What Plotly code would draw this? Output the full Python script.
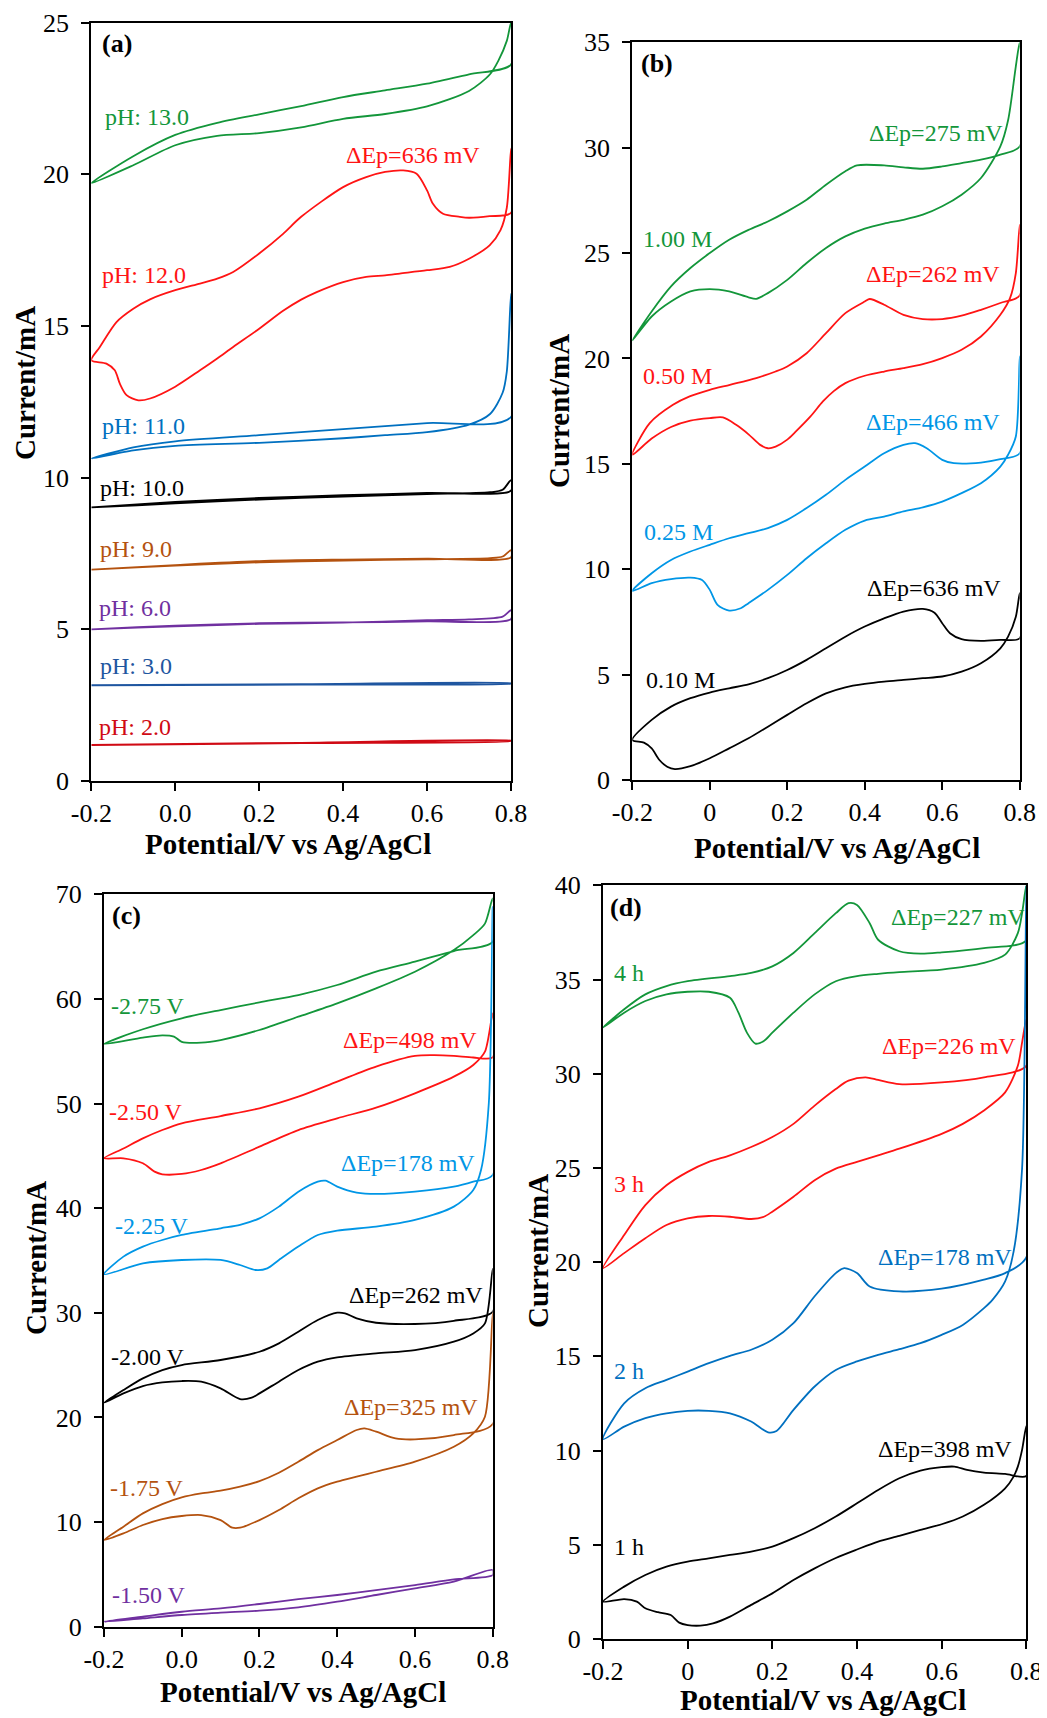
import plotly.graph_objects as go

# The page body has an 8 px default margin, so the figure is drawn 8 px smaller
# and every reference pixel position is shifted by OFF.
OFF = 8
W, H = 1047 - OFF, 1718 - OFF

# ---------------- colours ----------------
GREEN = "#13963A"
RED = "#FF1414"
DRED = "#D00A14"
BLUE = "#0070C0"
LBLUE = "#0096E6"
BROWN = "#B4520F"
PURPLE = "#7030A0"
NAVY = "#1F56A0"
BLACK = "#000000"

# ================= Panel (a): pH =================
a13_up_x = [-0.2, -0.1, 0, 0.1, 0.2, 0.3, 0.4, 0.5, 0.6, 0.7, 0.8]
a13_up_y = [19.71, 20.6, 21.3, 21.7, 21.98, 22.25, 22.55, 22.77, 22.99, 23.3, 23.62]
a13_dn_x = [-0.2, -0.1, 0, 0.1, 0.2, 0.3, 0.4, 0.5, 0.6, 0.7, 0.75, 0.77, 0.79, 0.8]
a13_dn_y = [19.71, 20.3, 20.96, 21.27, 21.36, 21.55, 21.83, 21.99, 22.24, 22.75, 23.3, 23.75, 24.4, 25.0]

a12_up_x = [-0.2, -0.18, -0.14, -0.1, -0.06, 0, 0.059, 0.1, 0.138, 0.2, 0.257, 0.3, 0.4, 0.455, 0.5,
            0.543, 0.575, 0.6, 0.614, 0.638, 0.678, 0.7, 0.749, 0.8]
a12_up_y = [13.87, 14.3, 15.13, 15.57, 15.88, 16.18, 16.4, 16.56, 16.78, 17.39, 18.04, 18.6, 19.58, 19.91, 20.08,
            20.13, 20.02, 19.47, 19.03, 18.7, 18.6, 18.57, 18.62, 18.73]
a12_dn_x = [-0.2, -0.164, -0.144, -0.132, -0.116, -0.088, -0.06, 0, 0.059, 0.1, 0.138, 0.2, 0.257, 0.3, 0.337,
            0.4, 0.455, 0.5, 0.535, 0.6, 0.654, 0.7, 0.749, 0.775, 0.79, 0.8]
a12_dn_y = [13.87, 13.76, 13.54, 13.1, 12.72, 12.55, 12.61, 13.0, 13.54, 13.93, 14.31, 14.91, 15.5, 15.87, 16.12,
            16.45, 16.62, 16.67, 16.73, 16.84, 16.95, 17.22, 17.66, 18.16, 18.9, 20.85]

a11_up_x = [-0.2, -0.1, 0, 0.2, 0.4, 0.6, 0.8]
a11_up_y = [10.63, 11.0, 11.2, 11.4, 11.6, 11.8, 12.0]
a11_dn_x = [-0.2, -0.1, 0, 0.2, 0.4, 0.5, 0.6, 0.7, 0.75, 0.78, 0.79, 0.8]
a11_dn_y = [10.63, 10.9, 11.05, 11.15, 11.3, 11.4, 11.5, 11.75, 12.1, 12.8, 13.5, 16.07]

a10_up_x = [-0.2, 0, 0.2, 0.4, 0.6, 0.8]
a10_up_y = [9.02, 9.2, 9.33, 9.42, 9.5, 9.57]
a10_dn_x = [-0.2, 0, 0.2, 0.4, 0.6, 0.75, 0.78, 0.8]
a10_dn_y = [9.02, 9.15, 9.28, 9.38, 9.46, 9.52, 9.6, 9.92]

a9_up_x = [-0.2, 0, 0.2, 0.4, 0.6, 0.8]
a9_up_y = [6.97, 7.12, 7.25, 7.3, 7.33, 7.37]
a9_dn_x = [-0.2, 0, 0.2, 0.4, 0.6, 0.75, 0.78, 0.8]
a9_dn_y = [6.97, 7.1, 7.21, 7.27, 7.31, 7.35, 7.4, 7.61]

a6_up_x = [-0.2, 0, 0.2, 0.4, 0.6, 0.8]
a6_up_y = [5.0, 5.12, 5.2, 5.23, 5.26, 5.34]
a6_dn_x = [-0.2, 0, 0.2, 0.4, 0.6, 0.7, 0.78, 0.8]
a6_dn_y = [5.0, 5.1, 5.18, 5.22, 5.3, 5.33, 5.42, 5.63]

a3_up_x = [-0.2, 0.3, 0.8]
a3_up_y = [3.16, 3.19, 3.22]
a3_dn_x = [-0.2, 0.3, 0.8]
a3_dn_y = [3.15, 3.18, 3.21]

a2_up_x = [-0.2, 0.3, 0.8]
a2_up_y = [1.19, 1.26, 1.33]
a2_dn_x = [-0.2, 0.3, 0.8]
a2_dn_y = [1.18, 1.25, 1.32]

# ================= Panel (b): concentration =================
b100_up_x = [-0.2, -0.15, -0.1, -0.05, 0, 0.05, 0.1, 0.15, 0.2, 0.25, 0.3, 0.35, 0.38, 0.45, 0.5, 0.55,
             0.6, 0.65, 0.7, 0.75, 0.8]
b100_up_y = [20.85, 22.23, 23.42, 24.29, 25.0, 25.63, 26.1, 26.5, 26.98, 27.53, 28.24, 28.88, 29.16, 29.16,
             29.07, 29.0, 29.11, 29.27, 29.43, 29.67, 30.06]
b100_dn_x = [-0.2, -0.15, -0.1, -0.05, 0, 0.05, 0.1, 0.12, 0.15, 0.2, 0.25, 0.3, 0.35, 0.4, 0.45, 0.5,
             0.55, 0.6, 0.65, 0.7, 0.75, 0.77, 0.79, 0.8]
b100_dn_y = [20.85, 21.99, 22.7, 23.18, 23.29, 23.18, 22.9, 22.83, 23.1, 23.73, 24.53, 25.24, 25.79, 26.16,
             26.4, 26.58, 26.82, 27.22, 27.77, 28.56, 30.06, 31.3, 33.86, 35.0]

b050_up_x = [-0.2, -0.155, -0.095, -0.052, 0, 0.052, 0.12, 0.17, 0.2, 0.25, 0.3, 0.35, 0.4, 0.413, 0.45,
             0.5, 0.55, 0.6, 0.65, 0.7, 0.75, 0.8]
b050_up_y = [15.43, 16.93, 17.8, 18.2, 18.51, 18.75, 19.07, 19.38, 19.62, 20.25, 21.2, 22.15, 22.7, 22.82,
             22.55, 22.07, 21.87, 21.87, 22.03, 22.31, 22.63, 22.99]
b050_dn_x = [-0.2, -0.15, -0.1, -0.05, 0, 0.034, 0.068, 0.1, 0.13, 0.15, 0.17, 0.2, 0.223, 0.26, 0.292,
             0.32, 0.35, 0.4, 0.45, 0.5, 0.55, 0.6, 0.65, 0.7, 0.75, 0.775, 0.79, 0.8]
b050_dn_y = [15.43, 16.2, 16.75, 17.05, 17.17, 17.2, 16.85, 16.4, 15.9, 15.74, 15.82, 16.15, 16.55, 17.25,
             17.96, 18.45, 18.83, 19.18, 19.38, 19.54, 19.73, 20.02, 20.41, 21.04, 22.07, 22.86, 24.05, 26.34]

b025_up_x = [-0.2, -0.15, -0.1, -0.05, 0, 0.05, 0.1, 0.15, 0.2, 0.25, 0.3, 0.35, 0.4, 0.45, 0.5, 0.53,
             0.56, 0.6, 0.63, 0.7, 0.75, 0.8]
b025_up_y = [8.97, 9.81, 10.44, 10.84, 11.16, 11.47, 11.71, 11.95, 12.34, 12.9, 13.53, 14.24, 14.87, 15.5,
             15.9, 15.98, 15.74, 15.19, 15.03, 15.06, 15.22, 15.5]
b025_dn_x = [-0.2, -0.15, -0.1, -0.05, -0.02, 0, 0.02, 0.05, 0.08, 0.1, 0.15, 0.2, 0.25, 0.3, 0.35, 0.4,
             0.45, 0.5, 0.55, 0.6, 0.65, 0.7, 0.75, 0.77, 0.79, 0.8]
b025_dn_y = [8.97, 9.34, 9.53, 9.6, 9.49, 9.02, 8.31, 8.04, 8.15, 8.39, 9.02, 9.73, 10.52, 11.23, 11.87,
             12.31, 12.5, 12.74, 12.94, 13.21, 13.61, 14.08, 14.87, 15.43, 16.3, 20.1]

b010_up_x = [-0.2, -0.15, -0.1, -0.05, 0, 0.05, 0.1, 0.15, 0.2, 0.25, 0.3, 0.35, 0.4, 0.45, 0.5, 0.55,
             0.58, 0.6, 0.62, 0.65, 0.7, 0.75, 0.8]
b010_up_y = [1.9, 2.85, 3.48, 3.88, 4.15, 4.35, 4.54, 4.83, 5.22, 5.7, 6.25, 6.8, 7.28, 7.67, 7.99, 8.12,
             7.94, 7.44, 6.96, 6.68, 6.6, 6.65, 6.72]
b010_dn_x = [-0.2, -0.17, -0.15, -0.13, -0.11, -0.09, -0.05, 0, 0.05, 0.1, 0.15, 0.2, 0.25, 0.3, 0.35, 0.4,
             0.45, 0.5, 0.55, 0.6, 0.65, 0.7, 0.75, 0.77, 0.79, 0.8]
b010_dn_y = [1.9, 1.77, 1.5, 0.95, 0.63, 0.52, 0.66, 1.03, 1.5, 1.98, 2.53, 3.09, 3.64, 4.11, 4.4, 4.56,
             4.67, 4.75, 4.83, 4.91, 5.14, 5.54, 6.25, 6.8, 7.75, 8.86]

# ================= Panel (c): deposition potential =================
c275_up_x = [-0.2, -0.1, 0, 0.1, 0.2, 0.3, 0.4, 0.5, 0.6, 0.7, 0.8]
c275_up_y = [55.69, 57.1, 58.15, 58.94, 59.67, 60.37, 61.33, 62.6, 63.56, 64.58, 65.47]
c275_dn_x = [-0.2, -0.1, -0.05, -0.02, 0, 0.05, 0.1, 0.2, 0.3, 0.4, 0.5, 0.6, 0.7, 0.75, 0.78, 0.8]
c275_dn_y = [55.69, 56.3, 56.52, 56.4, 55.9, 55.82, 56.07, 57.03, 58.3, 59.58, 61.01, 62.6, 64.67, 66.1,
             67.2, 69.6]

c250_up_x = [-0.2, -0.15, -0.1, -0.05, 0, 0.1, 0.2, 0.3, 0.4, 0.5, 0.6, 0.65, 0.7, 0.75, 0.8]
c250_up_y = [44.77, 45.71, 46.67, 47.47, 48.11, 48.81, 49.55, 50.66, 52.1, 53.53, 54.55, 54.62, 54.55,
             54.4, 54.42]
c250_dn_x = [-0.2, -0.15, -0.1, -0.07, -0.05, 0, 0.05, 0.1, 0.2, 0.3, 0.4, 0.5, 0.6, 0.7, 0.75, 0.78, 0.8]
c250_dn_y = [44.77, 44.77, 44.29, 43.49, 43.24, 43.27, 43.65, 44.29, 45.88, 47.47, 48.59, 49.61, 50.98,
             52.57, 53.69, 54.96, 58.62]

c225_up_x = [-0.2, -0.15, -0.1, -0.05, 0, 0.1, 0.15, 0.2, 0.25, 0.3, 0.35, 0.37, 0.4, 0.45, 0.5, 0.6,
             0.7, 0.75, 0.8]
c225_up_y = [33.68, 35.37, 36.33, 36.96, 37.44, 38.08, 38.4, 39.03, 40.15, 41.58, 42.54, 42.63, 42.06,
             41.49, 41.36, 41.58, 42.06, 42.54, 43.18]
c225_dn_x = [-0.2, -0.1, 0, 0.1, 0.15, 0.19, 0.22, 0.25, 0.3, 0.35, 0.4, 0.5, 0.6, 0.7, 0.75, 0.77, 0.79,
             0.8]
c225_dn_y = [33.68, 34.73, 35.05, 35.05, 34.57, 34.09, 34.25, 35.05, 36.33, 37.44, 37.86, 38.24, 38.88,
             40.15, 41.74, 43.65, 50.03, 68.8]

c200_up_x = [-0.2, -0.15, -0.1, -0.05, 0, 0.1, 0.2, 0.25, 0.3, 0.35, 0.4, 0.42, 0.45, 0.5, 0.6, 0.7, 0.8]
c200_up_y = [21.41, 22.62, 23.73, 24.53, 25.01, 25.49, 26.28, 27.08, 28.19, 29.31, 30.01, 29.95, 29.47,
             29.05, 28.93, 29.24, 30.1]
c200_dn_x = [-0.2, -0.15, -0.1, -0.05, 0, 0.05, 0.1, 0.15, 0.18, 0.2, 0.25, 0.3, 0.35, 0.4, 0.5, 0.6,
             0.7, 0.75, 0.78, 0.8]
c200_dn_y = [21.41, 22.3, 23.0, 23.35, 23.48, 23.42, 22.78, 21.76, 21.89, 22.3, 23.42, 24.53, 25.33,
             25.74, 26.12, 26.44, 27.24, 28.03, 28.99, 34.2]

c175_up_x = [-0.2, -0.15, -0.1, -0.05, 0, 0.05, 0.1, 0.15, 0.2, 0.25, 0.3, 0.35, 0.4, 0.45, 0.47, 0.5,
             0.55, 0.6, 0.7, 0.8]
c175_up_y = [8.28, 9.56, 10.83, 11.72, 12.36, 12.74, 13.0, 13.38, 13.92, 14.72, 15.77, 16.88, 17.84, 18.8,
             18.95, 18.64, 18.0, 17.9, 18.32, 19.37]
c175_dn_x = [-0.2, -0.15, -0.1, -0.05, 0, 0.05, 0.1, 0.13, 0.15, 0.2, 0.25, 0.3, 0.35, 0.4, 0.45, 0.5,
             0.6, 0.7, 0.75, 0.78, 0.8]
c175_dn_y = [8.28, 8.92, 9.72, 10.29, 10.58, 10.67, 10.19, 9.46, 9.46, 10.19, 11.15, 12.27, 13.22, 13.86,
             14.34, 14.81, 15.77, 17.2, 18.48, 20.07, 29.95]

c150_up_x = [-0.2, -0.1, 0, 0.1, 0.2, 0.3, 0.4, 0.5, 0.6, 0.7, 0.8]
c150_up_y = [0.48, 0.96, 1.43, 1.75, 2.17, 2.64, 3.03, 3.5, 3.98, 4.52, 4.94]
c150_dn_x = [-0.2, -0.1, 0, 0.1, 0.2, 0.3, 0.4, 0.5, 0.6, 0.7, 0.8]
c150_dn_y = [0.48, 0.8, 1.12, 1.34, 1.53, 1.85, 2.39, 3.03, 3.66, 4.3, 5.42]

# ================= Panel (d): deposition time =================
d4_up_x = [-0.2, -0.15, -0.1, -0.05, 0, 0.1, 0.15, 0.2, 0.25, 0.3, 0.35, 0.38, 0.4, 0.43, 0.45, 0.5, 0.55,
           0.6, 0.7, 0.8]
d4_up_y = [32.45, 33.42, 34.21, 34.65, 34.91, 35.18, 35.35, 35.7, 36.41, 37.46, 38.52, 39.05, 38.96, 37.99,
           37.11, 36.5, 36.37, 36.44, 36.67, 37.08]
d4_dn_x = [-0.2, -0.15, -0.1, -0.05, 0, 0.05, 0.1, 0.12, 0.14, 0.16, 0.18, 0.2, 0.25, 0.3, 0.35, 0.4, 0.45,
           0.5, 0.6, 0.7, 0.75, 0.78, 0.79, 0.8]
d4_dn_y = [32.45, 33.24, 33.86, 34.21, 34.35, 34.35, 34.03, 33.24, 32.18, 31.6, 31.74, 32.18, 33.24, 34.21,
           34.91, 35.18, 35.3, 35.39, 35.53, 35.88, 36.32, 37.46, 38.52, 40.0]

d3_up_x = [-0.2, -0.15, -0.1, -0.05, 0, 0.05, 0.1, 0.15, 0.2, 0.25, 0.3, 0.35, 0.38, 0.42, 0.45, 0.5, 0.6,
           0.7, 0.8]
d3_up_y = [19.68, 21.44, 23.03, 24.08, 24.79, 25.32, 25.67, 26.11, 26.64, 27.34, 28.31, 29.19, 29.63, 29.81,
           29.67, 29.45, 29.54, 29.81, 30.42]
d3_dn_x = [-0.2, -0.15, -0.1, -0.05, 0, 0.05, 0.1, 0.15, 0.18, 0.2, 0.25, 0.3, 0.35, 0.4, 0.45, 0.5, 0.6,
           0.65, 0.7, 0.75, 0.78, 0.79, 0.8]
d3_dn_y = [19.68, 20.48, 21.27, 21.97, 22.32, 22.45, 22.41, 22.29, 22.41, 22.68, 23.47, 24.35, 24.96, 25.32,
           25.67, 26.02, 26.81, 27.34, 28.05, 29.01, 30.42, 31.65, 32.89]

d2_up_x = [-0.2, -0.15, -0.1, -0.05, 0, 0.05, 0.1, 0.15, 0.2, 0.25, 0.3, 0.35, 0.37, 0.4, 0.43, 0.5, 0.6,
           0.7, 0.75, 0.8]
d2_up_y = [10.6, 12.51, 13.31, 13.75, 14.19, 14.64, 15.03, 15.35, 15.88, 16.76, 18.19, 19.42, 19.68, 19.42,
           18.71, 18.45, 18.59, 19.07, 19.42, 20.25]
d2_dn_x = [-0.2, -0.15, -0.1, -0.05, 0, 0.05, 0.1, 0.15, 0.19, 0.21, 0.25, 0.3, 0.35, 0.4, 0.45, 0.5, 0.55,
           0.6, 0.65, 0.7, 0.72, 0.75, 0.77, 0.79, 0.8]
d2_dn_y = [10.6, 11.27, 11.72, 11.98, 12.11, 12.11, 11.98, 11.54, 10.97, 11.04, 12.16, 13.4, 14.28, 14.73,
           15.08, 15.38, 15.7, 16.14, 16.67, 17.56, 18.0, 18.98, 20.56, 24.96, 40.0]

d1_up_x = [-0.2, -0.15, -0.1, -0.05, 0, 0.05, 0.1, 0.15, 0.2, 0.25, 0.3, 0.35, 0.4, 0.45, 0.5, 0.55, 0.6,
           0.63, 0.66, 0.7, 0.75, 0.8]
d1_up_y = [1.98, 2.78, 3.4, 3.84, 4.11, 4.28, 4.46, 4.64, 4.9, 5.35, 5.88, 6.5, 7.2, 7.91, 8.53, 8.94, 9.12,
           9.15, 8.97, 8.83, 8.76, 8.65]
d1_dn_x = [-0.2, -0.15, -0.12, -0.1, -0.07, -0.04, -0.02, 0, 0.03, 0.06, 0.1, 0.15, 0.2, 0.25, 0.3, 0.35,
           0.4, 0.45, 0.5, 0.55, 0.6, 0.65, 0.7, 0.75, 0.77, 0.78, 0.79, 0.8]
d1_dn_y = [1.98, 2.12, 1.98, 1.63, 1.42, 1.27, 0.87, 0.74, 0.71, 0.83, 1.19, 1.81, 2.42, 3.13, 3.75, 4.3,
           4.75, 5.17, 5.47, 5.79, 6.09, 6.5, 7.12, 8.0, 8.62, 9.15, 10.04, 11.31]

# ================= axes / ticks =================
x_ticks = [-0.2, 0, 0.2, 0.4, 0.6, 0.8]
x_text_dec = ["-0.2", "0.0", "0.2", "0.4", "0.6", "0.8"]
x_text_int = ["-0.2", "0", "0.2", "0.4", "0.6", "0.8"]
y_ticks_a = [0, 5, 10, 15, 20, 25]
y_ticks_b = [0, 5, 10, 15, 20, 25, 30, 35]
y_ticks_c = [0, 10, 20, 30, 40, 50, 60, 70]
y_ticks_d = [0, 5, 10, 15, 20, 25, 30, 35, 40]

# panel pixel boxes in reference coordinates (left, right, top, bottom)
boxes = {
    "a": (91.3, 511.0, 22.7, 781.0),
    "b": (632.3, 1019.7, 42.3, 780.0),
    "c": (104.0, 492.7, 894.3, 1626.7),
    "d": (603.0, 1026.3, 885.3, 1639.0),
}

SERIF = "Liberation Serif, Times New Roman, serif"

fig = go.Figure()


def add_cv(ax, upx, upy, dnx, dny, color):
    xs = list(upx) + list(reversed(dnx))
    ys = list(upy) + list(reversed(dny))
    fig.add_trace(go.Scatter(x=xs, y=ys, mode="lines",
                             line=dict(color=color, width=1.8, shape="spline", smoothing=0.8),
                             xaxis="x" + ax, yaxis="y" + ax, showlegend=False, hoverinfo="skip"))


add_cv("", a13_up_x, a13_up_y, a13_dn_x, a13_dn_y, GREEN)
add_cv("", a12_up_x, a12_up_y, a12_dn_x, a12_dn_y, RED)
add_cv("", a11_up_x, a11_up_y, a11_dn_x, a11_dn_y, BLUE)
add_cv("", a10_up_x, a10_up_y, a10_dn_x, a10_dn_y, BLACK)
add_cv("", a9_up_x, a9_up_y, a9_dn_x, a9_dn_y, BROWN)
add_cv("", a6_up_x, a6_up_y, a6_dn_x, a6_dn_y, PURPLE)
add_cv("", a3_up_x, a3_up_y, a3_dn_x, a3_dn_y, NAVY)
add_cv("", a2_up_x, a2_up_y, a2_dn_x, a2_dn_y, DRED)

add_cv("2", b100_up_x, b100_up_y, b100_dn_x, b100_dn_y, GREEN)
add_cv("2", b050_up_x, b050_up_y, b050_dn_x, b050_dn_y, RED)
add_cv("2", b025_up_x, b025_up_y, b025_dn_x, b025_dn_y, LBLUE)
add_cv("2", b010_up_x, b010_up_y, b010_dn_x, b010_dn_y, BLACK)

add_cv("3", c275_up_x, c275_up_y, c275_dn_x, c275_dn_y, GREEN)
add_cv("3", c250_up_x, c250_up_y, c250_dn_x, c250_dn_y, RED)
add_cv("3", c225_up_x, c225_up_y, c225_dn_x, c225_dn_y, LBLUE)
add_cv("3", c200_up_x, c200_up_y, c200_dn_x, c200_dn_y, BLACK)
add_cv("3", c175_up_x, c175_up_y, c175_dn_x, c175_dn_y, BROWN)
add_cv("3", c150_up_x, c150_up_y, c150_dn_x, c150_dn_y, PURPLE)

add_cv("4", d4_up_x, d4_up_y, d4_dn_x, d4_dn_y, GREEN)
add_cv("4", d3_up_x, d3_up_y, d3_dn_x, d3_dn_y, RED)
add_cv("4", d2_up_x, d2_up_y, d2_dn_x, d2_dn_y, BLUE)
add_cv("4", d1_up_x, d1_up_y, d1_dn_x, d1_dn_y, BLACK)


def fx(px):
    return (px - OFF) / W


def fy(py):
    return 1 - (py - OFF) / H


def axis_common():
    return dict(showline=True, linecolor="black", linewidth=2, mirror=True,
                ticks="outside", ticklen=8, tickwidth=2, tickcolor="black",
                showgrid=False, zeroline=False, automargin=False,
                tickfont=dict(family=SERIF, size=26, color="black"))


panels = [("a", "", x_text_dec, y_ticks_a), ("b", "2", x_text_int, y_ticks_b),
          ("c", "3", x_text_dec, y_ticks_c), ("d", "4", x_text_int, y_ticks_d)]
layout_axes = {}
for key, idx, xtext, yt in panels:
    l, r, t, b = boxes[key]
    xa = axis_common()
    xa.update(domain=[fx(l), fx(r)], range=[-0.2, 0.8], tickmode="array", tickvals=x_ticks,
              ticktext=xtext, anchor="y" + idx, ticklabelstandoff=0)
    ya = axis_common()
    ya.update(domain=[fy(b), fy(t)], range=[yt[0], yt[-1]], tickmode="array", tickvals=yt,
              anchor="x" + idx, ticklabelstandoff=7)
    layout_axes["xaxis" + idx] = xa
    layout_axes["yaxis" + idx] = ya

fig.update_layout(**layout_axes)
fig.update_layout(width=W, height=H, margin=dict(l=0, r=0, t=0, b=0, autoexpand=False),
                  paper_bgcolor="white", plot_bgcolor="white", showlegend=False)


def note(text, px, py, color, size=24, bold=False, anchor="left", angle=0):
    if bold:
        text = "<b>" + text + "</b>"
    fig.add_annotation(text=text, x=fx(px), y=fy(py), xref="paper", yref="paper",
                       xanchor=anchor, yanchor="middle", showarrow=False, textangle=angle,
                       font=dict(family=SERIF, size=size, color=color))


# panel labels
note("(a)", 100, 43, BLACK, 26, True)
note("(b)", 639, 63, BLACK, 26, True)
note("(c)", 110, 915, BLACK, 26, True)
note("(d)", 608, 907, BLACK, 26, True)

# panel a labels
note("pH: 13.0", 103, 117, GREEN)
note("ΔEp=636 mV", 344, 155, RED)
note("pH: 12.0", 100, 275, RED)
note("pH: 11.0", 100, 426, BLUE)
note("pH: 10.0", 98, 488, BLACK)
note("pH: 9.0", 98, 549, BROWN)
note("pH: 6.0", 97, 608, PURPLE)
note("pH: 3.0", 98, 666, NAVY)
note("pH: 2.0", 97, 727, DRED)

# panel b labels
note("ΔEp=275 mV", 867, 133, GREEN)
note("1.00 M", 641, 239, GREEN)
note("ΔEp=262 mV", 864, 274, RED)
note("0.50 M", 641, 376, RED)
note("ΔEp=466 mV", 864, 422, LBLUE)
note("0.25 M", 642, 532, LBLUE)
note("ΔEp=636 mV", 865, 588, BLACK)
note("0.10 M", 644, 680, BLACK)

# panel c labels
note("-2.75 V", 109, 1006, GREEN)
note("ΔEp=498 mV", 341, 1040, RED)
note("-2.50 V", 107, 1112, RED)
note("ΔEp=178 mV", 339, 1163, LBLUE)
note("-2.25 V", 113, 1226, LBLUE)
note("ΔEp=262 mV", 347, 1295, BLACK)
note("-2.00 V", 109, 1357, BLACK)
note("ΔEp=325 mV", 342, 1407, BROWN)
note("-1.75 V", 108, 1488, BROWN)
note("-1.50 V", 110, 1595, PURPLE)

# panel d labels
note("ΔEp=227 mV", 889, 917, GREEN)
note("4 h", 612, 973, GREEN)
note("ΔEp=226 mV", 880, 1046, RED)
note("3 h", 612, 1184, RED)
note("ΔEp=178 mV", 876, 1257, BLUE)
note("2 h", 612, 1371, BLUE)
note("ΔEp=398 mV", 876, 1449, BLACK)
note("1 h", 612, 1547, BLACK)

# axis titles
XT = "Potential/V vs Ag/AgCl"
YT = "Current/mA"
note(XT, 288, 844, BLACK, 29, True, "center")
note(XT, 837, 848, BLACK, 29, True, "center")
note(XT, 303, 1692, BLACK, 29, True, "center")
note(XT, 823, 1700, BLACK, 29, True, "center")
note(YT, 25, 383, BLACK, 29, True, "center", -90)
note(YT, 559, 411, BLACK, 29, True, "center", -90)
note(YT, 36, 1258, BLACK, 29, True, "center", -90)
note(YT, 538, 1251, BLACK, 29, True, "center", -90)

fig.write_html("out.html")
